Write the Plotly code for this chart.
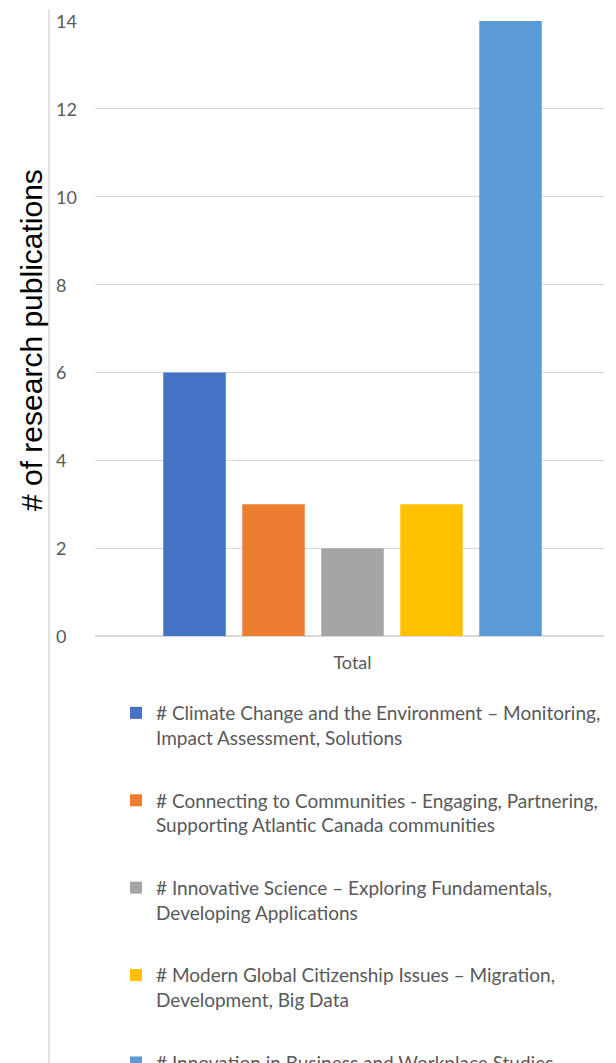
import plotly.graph_objects as go

categories = ["Total"]
series_names = [
    "# Climate Change and the Environment – Monitoring,<br>Impact Assessment, Solutions",
    "# Connecting to Communities - Engaging, Partnering,<br>Supporting Atlantic Canada communities",
    "# Innovative Science – Exploring Fundamentals,<br>Developing Applications",
    "# Modern Global Citizenship Issues – Migration,<br>Development, Big Data",
    "# Innovation in Business and Workplace Studies",
]
series_values = [6, 3, 2, 3, 14]
series_colors = ["#4472C4", "#ED7D31", "#A5A5A5", "#FFC000", "#5B9BD5"]
tick_vals = [0, 2, 4, 6, 8, 10, 12, 14]
tick_text = ["0", "2", "4", "6", "8", "10", "12", "14"]

W, H = 616, 1063
ML, MR, MT, MB = 95, 12, 21, 427
PW, PH = W - ML - MR, H - MT - MB

def px_x(x):
    return (x - ML) / PW

def px_y(y):
    return (H - MB - y) / PH

fig = go.Figure()
for i, (name, val, col) in enumerate(zip(series_names, series_values, series_colors)):
    fig.add_trace(go.Bar(
        x=categories, y=[val], name=name, marker_color=col,
        marker_line_width=0, legendgroup=f"g{i}",
    ))

fig.update_layout(
    width=W, height=H,
    margin=dict(l=ML, r=MR, t=MT, b=MB, autoexpand=False),
    paper_bgcolor="white", plot_bgcolor="white",
    barmode="group", bargap=0.224, bargroupgap=0.209,
    font=dict(family="Lato", size=18, color="#595959"),
    showlegend=True,
    legend=dict(
        x=px_x(116), xanchor="left", y=px_y(694), yanchor="top",
        orientation="v", valign="top", traceorder="grouped",
        tracegroupgap=35, font=dict(family="Lato", size=19, color="#595959"),
        bgcolor="rgba(0,0,0,0)", borderwidth=0,
    ),
    xaxis=dict(
        range=[-0.5 - 3 / PW, 0.5 - 3 / PW], showgrid=False, showline=False,
        zeroline=False, ticks="", ticklabelstandoff=14,
        tickfont=dict(size=18, color="#595959"),
    ),
    yaxis=dict(
        range=[0, 14], tickvals=tick_vals,
        showgrid=True, gridcolor="#D9D9D9", gridwidth=1.3,
        zeroline=True, zerolinecolor="#D9D9D9", zerolinewidth=1.5,
        showline=False, ticks="", showticklabels=False,
    ),
)

# y tick labels, left-aligned as in the reference, positioned on the y scale
for v, t in zip(tick_vals, tick_text):
    fig.add_annotation(
        text=t, xref="paper", yref="y", x=px_x(54), y=v,
        xanchor="left", yanchor="middle", showarrow=False,
        font=dict(family="Lato", size=18, color="#595959"),
    )

fig.add_annotation(
    text="# of research publications", textangle=-90,
    xref="paper", yref="paper", x=px_x(31), y=px_y(340),
    xanchor="center", yanchor="middle", showarrow=False,
    font=dict(family="Liberation Sans", size=30, color="#000000"),
)

fig.add_shape(
    type="line", xref="paper", yref="paper",
    x0=px_x(49), x1=px_x(49), y0=px_y(9), y1=px_y(H + 5),
    line=dict(color="#D9D9D9", width=1.5),
)

fig.write_html("out.html")
